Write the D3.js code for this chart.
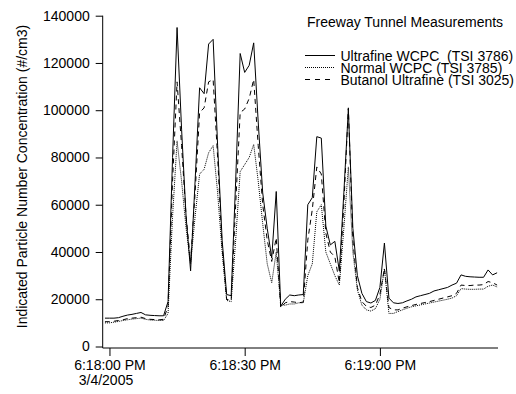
<!DOCTYPE html>
<html>
<head>
<meta charset="utf-8">
<script src="https://cdn.jsdelivr.net/npm/d3@7"></script>
<style>
  body { margin: 0; background: #fff; }
  svg { display: block; font-family: "Liberation Sans", Arial, Helvetica, sans-serif; }
</style>
</head>
<body>
<svg id="chart" width="516" height="394"></svg>
<script>
// samples are one second apart, starting one second before 6:18:00 PM
const startTime = new Date(2005, 2, 4, 18, 17, 59);

const ultrafine = [
  12000, 12000, 12000, 12200, 12800, 13300, 13600, 14000, 14400, 13400,
  13200, 13100, 13000, 13000, 19000, 80000, 135000, 92000, 55000, 32000,
  70000, 109500, 107000, 128000, 130000, 85000, 45000, 22000, 21500, 70000,
  124000, 116000, 119000, 128500, 95000, 65000, 50000, 37500, 65600, 17000,
  20000, 21800, 21500, 21800, 22000, 60000, 63000, 88800, 88200, 51000,
  43000, 44500, 32000, 65000, 100500, 50000, 30000, 22500, 19000, 18400,
  19500, 25000, 43800, 20500, 18500, 18200, 18500, 19300, 20000, 21000,
  21500, 22000, 22500, 23500, 24000, 24500, 25000, 26000, 26800, 30300,
  29700, 29500, 29400, 29300, 29300, 32400, 30300, 31200
];

const normal = [
  10000, 10000, 10300, 10600, 11000, 11300, 11600, 11800, 12000, 11500,
  11200, 11100, 11000, 11000, 14000, 55000, 87000, 70000, 50000, 35000,
  55000, 73000, 75000, 82000, 85000, 65000, 40000, 19500, 19000, 45000,
  74000, 77000, 80000, 85500, 70000, 52000, 35000, 27000, 40000, 17500,
  17500, 18000, 18000, 18500, 18500, 30000, 35000, 57000, 60000, 40000,
  35000, 30000, 26000, 50000, 76000, 40000, 24000, 17500, 15500, 15000,
  16000, 20000, 33000, 14000, 14000, 14800, 15500, 16200, 16800, 17200,
  17600, 18000, 18400, 18800, 19200, 19600, 20000, 20500, 21500, 24500,
  24300, 24200, 24200, 24300, 24300, 25500, 26000, 25200
];

const butanol = [
  10500, 10500, 10700, 11000, 11300, 11800, 12000, 12200, 12400, 11800,
  11500, 11400, 11300, 11500, 17000, 70000, 112000, 85000, 55000, 36000,
  65000, 99000, 101000, 112000, 113000, 80000, 42000, 20000, 19500, 60000,
  99000, 100500, 105000, 113000, 85000, 60000, 45000, 36000, 46000, 16500,
  18500, 19000, 18800, 18500, 18800, 45000, 58000, 76000, 73000, 48000,
  40000, 38000, 27000, 60000, 101000, 45000, 25000, 19000, 17000, 16500,
  17500, 22000, 33000, 16500, 15500, 15500, 16200, 16800, 17300, 17800,
  18200, 18600, 19000, 19500, 20000, 20500, 21000, 21500, 22500, 26000,
  25800, 25800, 26000, 26000, 26200, 27500, 27000, 26000
];

const yTicks = [0, 20000, 40000, 60000, 80000, 100000, 120000, 140000];
const xTickTimes = [
  new Date(2005, 2, 4, 18, 18, 0),
  new Date(2005, 2, 4, 18, 18, 30),
  new Date(2005, 2, 4, 18, 19, 0)
];
const xTickLabels = ["6:18:00 PM", "6:18:30 PM", "6:19:00 PM"];
const dateLabel = "3/4/2005";

const legendTitle = "Freeway Tunnel Measurements";
const seriesNames = [
  "Ultrafine WCPC\u00a0 (TSI 3786)",
  "Normal WCPC (TSI 3785)",
  "Butanol Ultrafine (TSI 3025)"
];

const times = ultrafine.map((d, i) => new Date(startTime.getTime() + i * 1000));

const plotLeft = 102.7, plotRight = 498, plotTop = 15.7, zeroY = 346.5, axisY = 348;

const svg = d3.select("#chart");

const x = d3.scaleTime()
  .domain([new Date(startTime.getTime() - 500), new Date(startTime.getTime() + 87200)])
  .range([plotLeft, plotRight]);

const y = d3.scaleLinear()
  .domain([0, 140000])
  .range([zeroY, plotTop]);

// y axis
const yAxis = svg.append("g")
  .attr("transform", "translate(" + plotLeft + ",0)")
  .call(d3.axisLeft(y).tickValues(yTicks).tickFormat(d3.format("d")).tickSize(7).tickPadding(6))
  .call(g => g.select(".domain").remove());
yAxis.selectAll("text").style("font-size", "14px").attr("fill", "#000");
yAxis.selectAll("line").attr("stroke", "#000");

// x axis
const xAxis = svg.append("g")
  .attr("transform", "translate(0," + axisY + ")")
  .call(d3.axisBottom(x).tickValues(xTickTimes).tickFormat((d, i) => xTickLabels[i]).tickSize(8).tickPadding(4))
  .call(g => g.select(".domain").remove());
xAxis.selectAll("text").style("font-size", "14px").attr("fill", "#000");
xAxis.selectAll("line").attr("stroke", "#000");
xAxis.select(".tick text")
  .append("tspan")
  .attr("x", -4)
  .attr("dy", "1.05em")
  .text(dateLabel);

// axis lines
svg.append("line")
  .attr("x1", plotLeft).attr("x2", plotLeft)
  .attr("y1", plotTop).attr("y2", axisY)
  .attr("stroke", "#000");
svg.append("line")
  .attr("x1", plotLeft).attr("x2", plotRight)
  .attr("y1", axisY).attr("y2", axisY)
  .attr("stroke", "#000");

// y axis title
svg.append("text")
  .attr("transform", "translate(27,176.5) rotate(-90)")
  .attr("text-anchor", "middle")
  .style("font-size", "14px")
  .text("Indicated Particle Number Concentration (#/cm3)");

// data lines
const series = [
  { values: normal, dash: "1,1" },
  { values: butanol, dash: "5,4" },
  { values: ultrafine, dash: null }
];

const line = d3.line()
  .x((d, i) => x(times[i]))
  .y(d => y(d));

svg.selectAll("path.series")
  .data(series)
  .enter()
  .append("path")
  .attr("class", "series")
  .attr("d", d => line(d.values))
  .attr("fill", "none")
  .attr("stroke", "#000")
  .attr("stroke-width", 1)
  .attr("stroke-dasharray", d => d.dash);

// legend
const legend = svg.append("g");
legend.append("text")
  .attr("x", 307)
  .attr("y", 27)
  .style("font-size", "14px")
  .text(legendTitle);

const legendDash = [null, "1,1", "5,5"];
seriesNames.forEach((name, i) => {
  const ly = 55.5 + i * 12;
  legend.append("line")
    .attr("x1", 305).attr("x2", 335)
    .attr("y1", ly).attr("y2", ly)
    .attr("stroke", "#000")
    .attr("stroke-dasharray", legendDash[i]);
  legend.append("text")
    .attr("x", 340.5)
    .attr("y", ly + 5)
    .style("font-size", "14px")
    .text(name);
});
</script>
</body>
</html>
